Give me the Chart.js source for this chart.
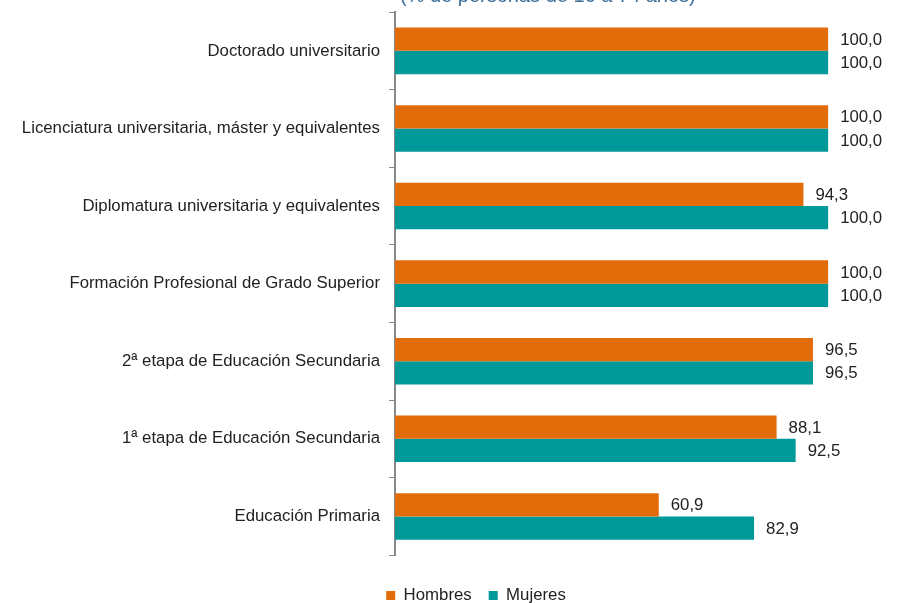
<!DOCTYPE html>
<html>
<head>
<meta charset="utf-8">
<script src="https://cdn.jsdelivr.net/npm/chart.js@4.4.0/dist/chart.umd.min.js"></script>
<style>
  body { margin: 0; background: #fff; overflow: hidden; }
  #wrap { position: relative; width: 897px; height: 603px; overflow: hidden; }
  #chart { position: absolute; left: 0; top: -7px; }
  #subtitle { position: absolute; left: 400px; top: -16px; font-family: 'Liberation Sans', Arial, sans-serif;
    font-size: 20px; color: #3d6f99; white-space: nowrap; }
</style>
</head>
<body>
<div id="wrap">
  <canvas id="chart" width="952" height="621"></canvas>
  <div id="subtitle">(% de personas de 16 a 74 años)</div>
</div>
<script>
// Datos
var categories = [
  'Doctorado universitario',
  'Licenciatura universitaria, máster y equivalentes',
  'Diplomatura universitaria y equivalentes',
  'Formación Profesional de Grado Superior',
  '2ª etapa de Educación Secundaria',
  '1ª etapa de Educación Secundaria',
  'Educación Primaria'
];
var hombres = [100.0, 100.0, 94.3, 100.0, 96.5, 88.1, 60.9];
var mujeres = [100.0, 100.0, 100.0, 100.0, 96.5, 92.5, 82.9];

var orange = 'rgb(227, 108, 10)';
var teal = 'rgb(0, 153, 153)';
var fontFamily = "'Liberation Sans', Arial, sans-serif";
var fontSize = 16.8;

// draws the value next to each bar
var valueLabels = {
  id: 'valueLabels',
  afterDatasetsDraw: function (chart) {
    var ctx = chart.ctx;
    ctx.save();
    ctx.font = fontSize + 'px ' + fontFamily;
    ctx.fillStyle = '#222222';
    ctx.textAlign = 'left';
    ctx.textBaseline = 'middle';
    chart.data.datasets.forEach(function (ds, i) {
      var meta = chart.getDatasetMeta(i);
      meta.data.forEach(function (bar, j) {
        var txt = ds.data[j].toFixed(1).replace('.', ',');
        ctx.fillText(txt, bar.x + 12, bar.y + 1);
      });
    });
    ctx.restore();
  }
};

var chart = new Chart(document.getElementById('chart').getContext('2d'), {
  type: 'bar',
  data: {
    labels: categories,
    datasets: [
      { label: 'Hombres', data: hombres, backgroundColor: orange, borderWidth: 0 },
      { label: 'Mujeres', data: mujeres, backgroundColor: teal, borderWidth: 0 }
    ]
  },
  options: {
    indexAxis: 'y',
    responsive: false,
    animation: false,
    categoryPercentage: 0.6,
    barPercentage: 1.0,
    layout: { padding: { left: 0, right: 0, top: 5, bottom: 0 } },
    scales: {
      x: {
        min: 0,
        max: 128.6, // leaves room on the right for the value labels
        afterFit: function (scale) { scale.height = 15; },
        grid: { display: false },
        border: { display: false },
        ticks: { display: false }
      },
      y: {
        afterFit: function (scale) { scale.width = 395; },
        grid: {
          offset: true,
          drawOnChartArea: false,
          drawTicks: true,
          tickLength: 6,
          color: '#888888',
          lineWidth: 1
        },
        border: { display: true, color: '#888888', width: 2 },
        ticks: {
          color: '#222222',
          padding: 9,
          font: { family: fontFamily, size: fontSize }
        }
      }
    },
    plugins: {
      legend: {
        position: 'bottom',
        labels: {
          boxWidth: 9,
          boxHeight: 9,
          padding: 17,
          color: '#222222',
          font: { family: fontFamily, size: fontSize }
        }
      },
      tooltip: { enabled: false }
    }
  },
  plugins: [valueLabels]
});
</script>
</body>
</html>
